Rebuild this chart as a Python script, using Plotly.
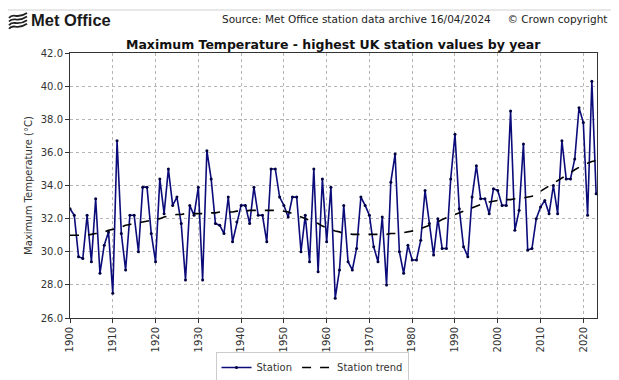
import plotly.graph_objects as go

years = list(range(1900, 2024))

station = [
    32.6, 32.2, 29.7, 29.6, 32.2, 29.4, 33.2, 28.7, 30.4, 31.2,   # 1900-1909
    27.5, 36.7, 31.1, 28.9, 32.2, 32.2, 30.0, 33.9, 33.9, 31.1,   # 1910-1919
    29.4, 34.4, 32.3, 35.0, 32.8, 33.3, 31.7, 28.3, 32.8, 32.2,   # 1920-1929
    33.9, 28.3, 36.1, 34.4, 31.7, 31.6, 31.1, 33.3, 30.6, 31.8,   # 1930-1939
    32.8, 32.8, 31.7, 33.9, 32.2, 32.2, 30.6, 35.0, 35.0, 33.3,   # 1940-1949
    32.8, 32.1, 33.3, 33.3, 30.0, 32.2, 29.4, 35.0, 28.8, 34.4,   # 1950-1959
    30.6, 33.9, 27.2, 28.9, 32.8, 29.4, 28.9, 30.2, 33.3, 32.8,   # 1960-1969
    32.2, 30.3, 29.4, 32.1, 28.0, 34.2, 35.9, 30.0, 28.7, 30.4,   # 1970-1979
    29.5, 29.5, 30.7, 33.7, 31.7, 29.8, 32.0, 30.2, 30.2, 34.4,   # 1980-1989
    37.1, 32.6, 30.3, 29.7, 33.3, 35.2, 33.2, 33.2, 32.3, 33.8,   # 1990-1999
    33.7, 32.8, 32.8, 38.5, 31.3, 32.5, 36.5, 30.1, 30.2, 32.0,   # 2000-2009
    32.7, 33.1, 32.3, 34.0, 32.3, 36.7, 34.4, 34.4, 35.6, 38.7,   # 2010-2019
    37.8, 32.2, 40.3, 33.5,                                       # 2020-2023
]

trend = [
    31.0, 31.0, 31.0, 31.0, 31.0, 31.05, 31.1, 31.1, 31.2, 31.3,
    31.35, 31.45, 31.5, 31.6, 31.65, 31.7, 31.75, 31.8, 31.85, 31.9,
    31.95, 32.0, 32.1, 32.15, 32.2, 32.25, 32.25, 32.3, 32.3, 32.3,
    32.3, 32.3, 32.35, 32.35, 32.35, 32.4, 32.4, 32.4, 32.4, 32.45,
    32.45, 32.45, 32.5, 32.5, 32.5, 32.5, 32.5, 32.5, 32.5, 32.5,
    32.45, 32.4, 32.3, 32.2, 32.1, 32.0, 31.9, 31.8, 31.7, 31.55,
    31.45, 31.35, 31.25, 31.2, 31.1, 31.1, 31.05, 31.05, 31.05, 31.05,
    31.05, 31.05, 31.05, 31.05, 31.05, 31.1, 31.1, 31.1, 31.15, 31.2,
    31.25, 31.3, 31.4, 31.5, 31.6, 31.7, 31.8, 31.95, 32.05, 32.15,
    32.25, 32.35, 32.45, 32.55, 32.65, 32.75, 32.85, 32.9, 33.0, 33.05,
    33.1, 33.1, 33.15, 33.15, 33.2, 33.2, 33.25, 33.3, 33.35, 33.5,
    33.65, 33.8, 33.95, 34.1, 34.3, 34.45, 34.6, 34.8, 34.95, 35.1,
    35.25, 35.35, 35.45, 35.5,
]

decade_ticks = list(range(1900, 2021, 10))
decade_labels = [str(y) for y in decade_ticks]
temp_ticks = [26, 28, 30, 32, 34, 36, 38, 40, 42]

# The page body has an 8px margin, so the figure is drawn from (8, 8).
OFF = 8
W, H = 619 - OFF, 380 - OFF
PLOT_L, PLOT_R, PLOT_T, PLOT_B = 70, 597, 53, 318   # target page pixels
L, T = PLOT_L - OFF, PLOT_T - OFF
R = W - (PLOT_R - OFF)
B = H - (PLOT_B - OFF)
PW, PH = W - L - R, H - T - B


def px(x):
    """page pixel x -> paper coordinate"""
    return (x - OFF - L) / PW


def py(y):
    """page pixel y -> paper coordinate"""
    return (H - B - (y - OFF)) / PH


fig = go.Figure()
fig.add_trace(go.Scatter(
    x=years, y=station, mode="lines+markers", name="Station",
    line=dict(color="#0b0b7a", width=1.6),
    marker=dict(size=3, color="#000040"),
))
fig.add_trace(go.Scatter(
    x=years, y=trend, mode="lines", name="Station trend",
    line=dict(color="black", width=1.6, dash="dash"),
))

axis_font = dict(family="DejaVu Sans", size=10, color="#333333")

fig.update_layout(
    width=W, height=H, autosize=False,
    margin=dict(l=L, r=R, t=T, b=B, pad=0, autoexpand=False),
    paper_bgcolor="white", plot_bgcolor="white",
    font=dict(family="DejaVu Sans", color="#222222"),
    showlegend=True,
    legend=dict(
        orientation="h", xref="container", yref="container",
        x=(312 - OFF) / W, xanchor="center", y=1 - (352 - OFF) / H, yanchor="top",
        font=dict(family="DejaVu Sans", size=10, color="#333333"),
        bordercolor="#cccccc", borderwidth=1, bgcolor="white",
        itemwidth=30, tracegroupgap=0,
    ),
    xaxis=dict(
        range=[1900, 2023.2], tickvals=decade_ticks, ticktext=decade_labels,
        tickangle=-90, tickfont=axis_font, ticks="outside", ticklen=4,
        tickcolor="#333333", showline=True, linecolor="#333333", linewidth=1,
        mirror=True, showgrid=True, gridcolor="#b5b5b5", griddash="dot",
        gridwidth=0.8, zeroline=False, automargin=False,
    ),
    yaxis=dict(
        range=[26, 42], tickvals=temp_ticks, tickformat=".1f",
        tickfont=axis_font, ticks="outside", ticklen=4, tickcolor="#333333",
        showline=True, linecolor="#333333", linewidth=1, mirror=True,
        showgrid=True, gridcolor="#b5b5b5", griddash="dot", gridwidth=0.8,
        zeroline=False, automargin=False,
        title=dict(text="Maximum Temperature (°C)",
                   font=dict(family="DejaVu Sans", size=10, color="#333333"),
                   standoff=6),
    ),
)

# Title
fig.add_annotation(
    x=0.5, y=py(44), xref="paper", yref="paper", xanchor="center", yanchor="middle",
    text="<b>Maximum Temperature - highest UK station values by year</b>",
    showarrow=False, font=dict(family="DejaVu Sans", size=12.5, color="#111111"),
)
# Source text
fig.add_annotation(
    x=px(609), y=py(19), xref="paper", yref="paper", xanchor="right", yanchor="middle",
    text="Source: Met Office station data archive 16/04/2024&nbsp;&nbsp;&nbsp;&nbsp;&nbsp;© Crown copyright",
    showarrow=False, font=dict(family="DejaVu Sans", size=10.5, color="#222222"),
)
# Met Office wordmark
fig.add_annotation(
    x=px(29), y=py(20), xref="paper", yref="paper", xanchor="left", yanchor="middle",
    text="<b>Met Office</b>", showarrow=False,
    font=dict(family="Liberation Sans", size=16.5, color="#1a1a1a"),
)
# Top divider line
fig.add_shape(type="line", xref="paper", yref="paper",
              x0=px(8), x1=px(614), y0=py(10), y1=py(10),
              line=dict(color="#d0d0d0", width=1))
# Logo swooshes
for i in range(4):
    y0 = 14 + i * 3.6
    path = (f"M {px(9)},{py(y0 + 4)} C {px(13)},{py(y0 - 2)} {px(17)},{py(y0 + 6)} "
            f"{px(27)},{py(y0 - 1)}")
    fig.add_shape(type="path", xref="paper", yref="paper", path=path,
                  line=dict(color="#222222", width=1.8))

fig.write_html("out.html")
